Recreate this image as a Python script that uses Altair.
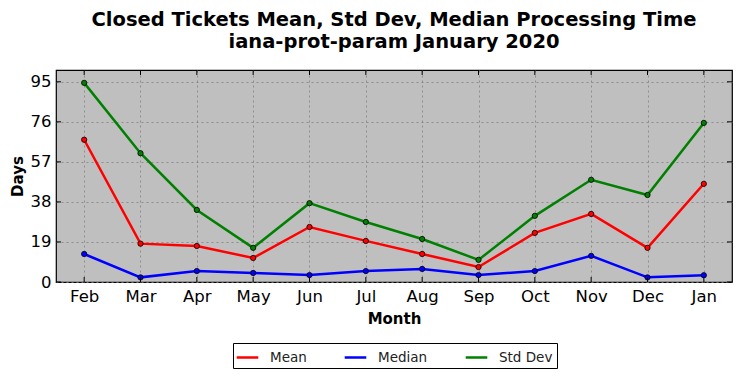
import altair as alt
import pandas as pd

months = ["Feb", "Mar", "Apr", "May", "Jun", "Jul", "Aug", "Sep", "Oct", "Nov", "Dec", "Jan"]
mean_vals = [67.5, 18.2, 17.1, 11.4, 26.1, 19.5, 13.3, 7.1, 23.3, 32.3, 16.2, 46.6]
median_vals = [13.3, 2.2, 5.2, 4.3, 3.3, 5.2, 6.2, 3.3, 5.2, 12.4, 2.2, 3.2]
std_vals = [94.5, 61.1, 34.2, 16.2, 37.4, 28.5, 20.4, 10.5, 31.4, 48.5, 41.3, 75.5]
series_names = ["Mean", "Median", "Std Dev"]
series_colors = ["#ff0000", "#0000ff", "#008000"]
y_ticks = [0, 19, 38, 57, 76, 95]

rows = []
for name, vals in zip(series_names, [mean_vals, median_vals, std_vals]):
    for m, v in zip(months, vals):
        rows.append({"Month": m, "Days": v, "Series": name})
df = pd.DataFrame(rows)

W, H = 676, 212
FONT = "DejaVu Sans"

xscale = alt.Scale(type="point", padding=0.5, domain=months)
xenc = alt.X("Month:O", scale=xscale,
             axis=alt.Axis(title="Month", labelAngle=0, labelFontSize=16.5, labelColor="black",
                           titleFontSize=15, titleFontWeight="bold", titleColor="black",
                           titlePadding=7, tickSize=0, labelPadding=6, domain=False,
                           grid=True, gridColor="#808080", gridDash=[2, 3], gridWidth=0.8))
yscale = alt.Scale(domain=[0, 100.6], nice=False, zero=False)
yenc = alt.Y("Days:Q", scale=yscale,
             axis=alt.Axis(title="Days", values=y_ticks, labelFontSize=16.5, labelColor="black",
                           titleFontSize=15, titleFontWeight="bold", titleColor="black",
                           titlePadding=5, tickSize=0, labelPadding=5, domain=False,
                           grid=True, gridColor="#808080", gridDash=[2, 3], gridWidth=0.8))

color_scale = alt.Scale(domain=series_names, range=series_colors)

lines = alt.Chart(df).mark_line(strokeWidth=2.5).encode(
    x=xenc, y=yenc,
    color=alt.Color("Series:N", scale=color_scale,
                    legend=alt.Legend(title=None, orient="none", legendX=177, legendY=273,
                                      direction="horizontal", columns=3,
                                      symbolType="M-1.2,0H1.2",
                                      symbolSize=324, symbolStrokeWidth=2.5, labelFontSize=13.5,
                                      labelColor="#222222", columnPadding=32, labelOffset=12,
                                      strokeColor="black", padding=4, fillColor="white")),
)

points = alt.Chart(df).mark_circle(size=28, stroke="black", strokeWidth=0.8, opacity=1).encode(
    x=alt.X("Month:O"), y=alt.Y("Days:Q"),
    fill=alt.Fill("Series:N", scale=color_scale, legend=None),
)

ytick_df = pd.DataFrame({"Days": y_ticks})
ytl = alt.Chart(ytick_df).mark_rule(color="black", strokeWidth=1).encode(
    y=alt.Y("Days:Q"), x=alt.value(0), x2=alt.value(5))
ytr = alt.Chart(ytick_df).mark_rule(color="black", strokeWidth=1).encode(
    y=alt.Y("Days:Q"), x=alt.value(W - 5), x2=alt.value(W))

xtick_df = pd.DataFrame({"Month": months})
xtb = alt.Chart(xtick_df).mark_rule(color="black", strokeWidth=1).encode(
    x=alt.X("Month:O"), y=alt.value(H - 5), y2=alt.value(H))
xtt = alt.Chart(xtick_df).mark_rule(color="black", strokeWidth=1).encode(
    x=alt.X("Month:O"), y=alt.value(0), y2=alt.value(5))

chart = alt.layer(lines, points, ytl, ytr, xtb, xtt).properties(
    width=W, height=H,
    autosize="none",
    padding={"left": 48, "top": 62, "right": 2, "bottom": 88},
    title=alt.TitleParams(
        text=["Closed Tickets Mean, Std Dev, Median Processing Time", "iana-prot-param January 2020"],
        fontSize=19.5, fontWeight="bold", font=FONT, color="black", anchor="middle",
        offset=17, lineHeight=22),
).configure(font=FONT).configure_view(
    fill="#bfbfbf", stroke="black", strokeWidth=1.2
).configure_axis(labelFont=FONT, titleFont=FONT).configure_legend(labelFont=FONT)

chart.save("out.html", embed_options={"renderer": "svg", "actions": False})
